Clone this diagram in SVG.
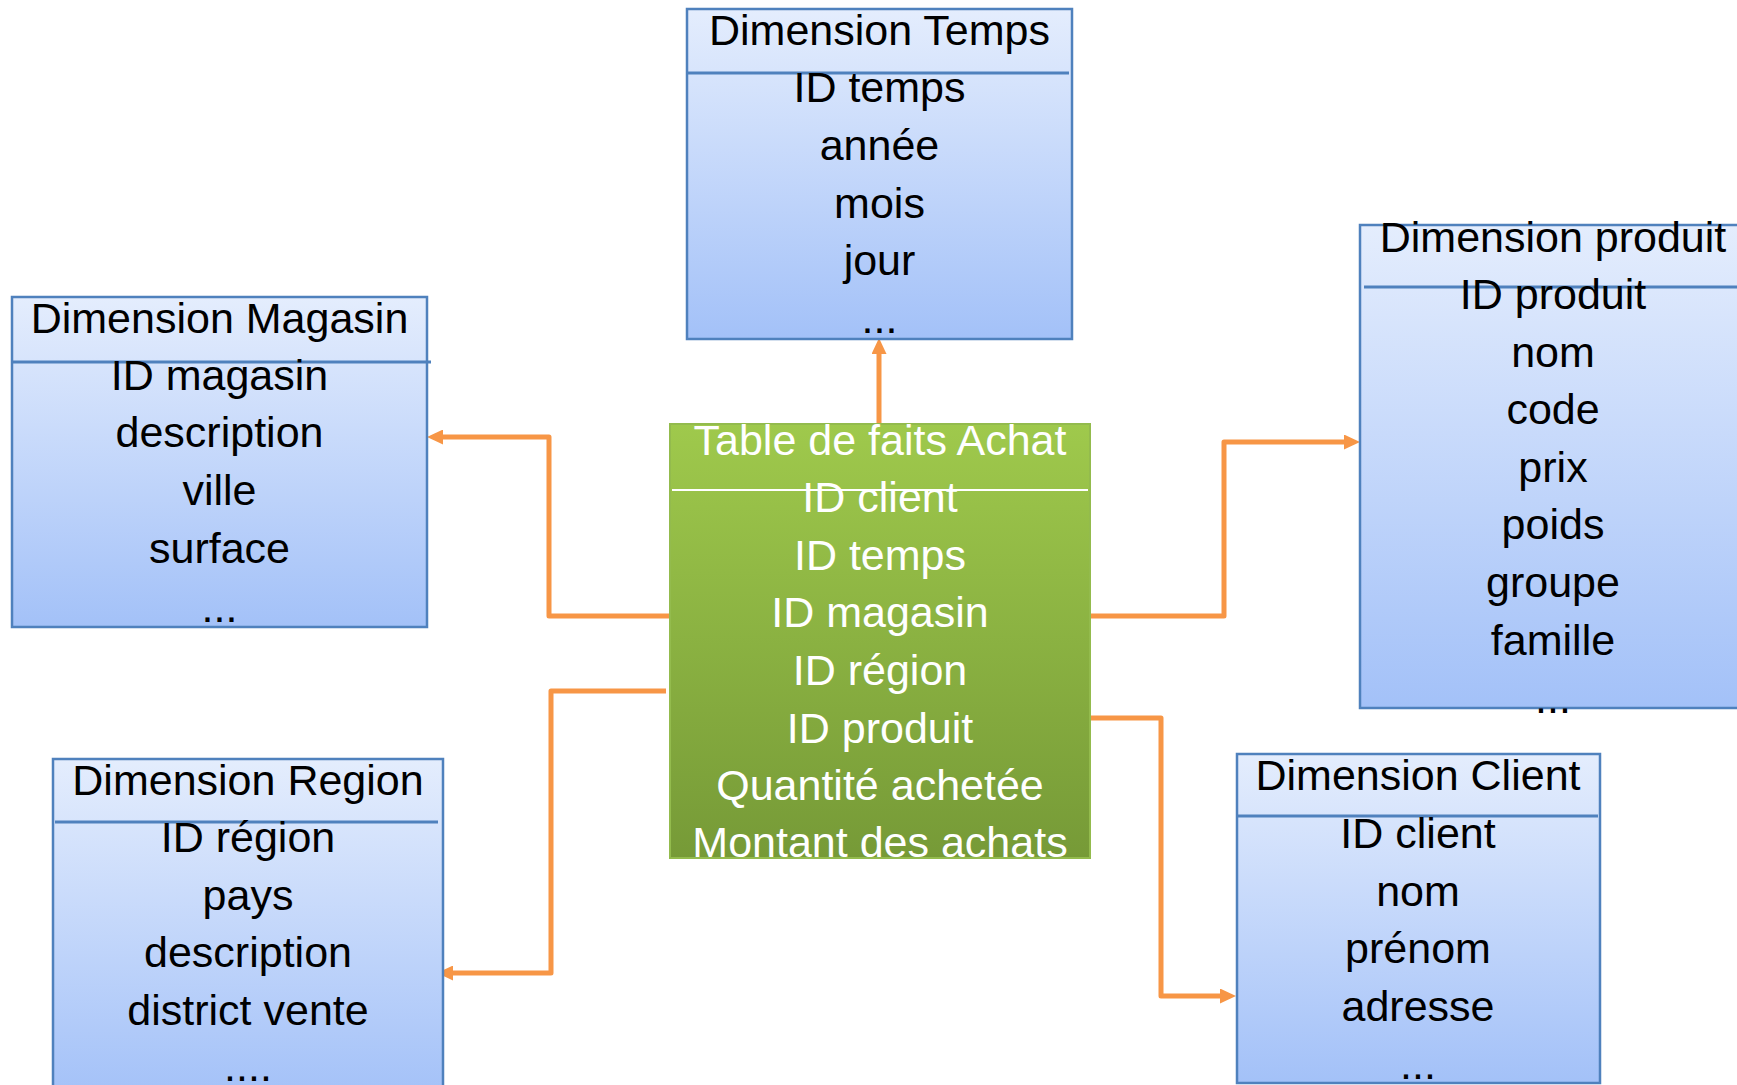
<svg xmlns="http://www.w3.org/2000/svg" width="1737" height="1085" viewBox="0 0 1737 1085">
<style>
  .dim { stroke: #4f81bd; stroke-width: 2.5; fill: url(#blueGrad); }
  .div { stroke: #4f81bd; stroke-width: 3; }
  .fact { stroke: #93bb4d; stroke-width: 2; fill: url(#greenGrad); }
  .fdiv { stroke: #ffffff; stroke-width: 2; }
  text { font-family: "Liberation Sans", Arial, sans-serif; font-size: 43px; text-anchor: middle; }
  .dark { fill: #000000; }
  .light { fill: #ffffff; }
  .conn { fill: none; stroke: #f79646; stroke-width: 5; stroke-linejoin: round; }
</style>
<defs>
  <linearGradient id="blueGrad" x1="0" y1="0" x2="0" y2="1">
    <stop offset="0" stop-color="#e4edfd"/>
    <stop offset="1" stop-color="#a3c1f8"/>
  </linearGradient>
  <linearGradient id="greenGrad" x1="0" y1="0" x2="0" y2="1">
    <stop offset="0" stop-color="#9fc94c"/>
    <stop offset="1" stop-color="#769a37"/>
  </linearGradient>
  <marker id="arrow" markerUnits="userSpaceOnUse" markerWidth="17" markerHeight="15" refX="3" refY="7.5" orient="auto">
    <path d="M0,0 L16,7.5 L0,15 z" fill="#f79646"/>
  </marker>
</defs>
<rect width="1737" height="1085" fill="#ffffff"/>

<g id="connectors">
  <path class="conn" d="M879,424 V351" marker-end="url(#arrow)"/>
  <path class="conn" d="M670,616 H549 V437 H440" marker-end="url(#arrow)"/>
  <path class="conn" d="M666,691 H551 V973 H450" marker-end="url(#arrow)"/>
  <path class="conn" d="M1090,616 H1224 V442 H1347" marker-end="url(#arrow)"/>
  <path class="conn" d="M1090,718 H1161 V996 H1223" marker-end="url(#arrow)"/>
</g>

<g id="dim-temps">
  <rect class="dim" x="687" y="9" width="385" height="330"/>
  <line class="div" x1="688" y1="73" x2="1069" y2="73"/>
  <text class="dark" x="879.5" y="45">Dimension Temps</text>
  <text class="dark" x="879.5" y="102">ID temps</text>
  <text class="dark" x="879.5" y="160">année</text>
  <text class="dark" x="879.5" y="218">mois</text>
  <text class="dark" x="879.5" y="275">jour</text>
  <text class="dark" x="879.5" y="333">...</text>
</g>

<g id="dim-magasin">
  <rect class="dim" x="12" y="297" width="415" height="330"/>
  <line class="div" x1="13" y1="362" x2="431" y2="362"/>
  <text class="dark" x="219.5" y="333">Dimension Magasin</text>
  <text class="dark" x="219.5" y="390">ID magasin</text>
  <text class="dark" x="219.5" y="447">description</text>
  <text class="dark" x="219.5" y="505">ville</text>
  <text class="dark" x="219.5" y="563">surface</text>
  <text class="dark" x="219.5" y="622">...</text>
</g>

<g id="fact-achat">
  <rect class="fact" x="670" y="424" width="420" height="434"/>
  <line class="fdiv" x1="672" y1="490" x2="1088" y2="490"/>
  <text class="light" x="880" y="455">Table de faits Achat</text>
  <text class="light" x="880" y="512">ID client</text>
  <text class="light" x="880" y="570">ID temps</text>
  <text class="light" x="880" y="627">ID magasin</text>
  <text class="light" x="880" y="685">ID région</text>
  <text class="light" x="880" y="743">ID produit</text>
  <text class="light" x="880" y="800">Quantité achetée</text>
  <text class="light" x="880" y="857">Montant des achats</text>
</g>

<g id="dim-produit">
  <rect class="dim" x="1360" y="225" width="390" height="483"/>
  <line class="div" x1="1364" y1="287" x2="1737" y2="287"/>
  <text class="dark" x="1553" y="252">Dimension produit</text>
  <text class="dark" x="1553" y="309">ID produit</text>
  <text class="dark" x="1553" y="367">nom</text>
  <text class="dark" x="1553" y="424">code</text>
  <text class="dark" x="1553" y="482">prix</text>
  <text class="dark" x="1553" y="539">poids</text>
  <text class="dark" x="1553" y="597">groupe</text>
  <text class="dark" x="1553" y="655">famille</text>
  <text class="dark" x="1553" y="713">...</text>
</g>

<g id="dim-region">
  <rect class="dim" x="53" y="759" width="390" height="340"/>
  <line class="div" x1="55" y1="822" x2="438" y2="822"/>
  <text class="dark" x="248" y="795">Dimension Region</text>
  <text class="dark" x="248" y="852">ID région</text>
  <text class="dark" x="248" y="910">pays</text>
  <text class="dark" x="248" y="967">description</text>
  <text class="dark" x="248" y="1025">district vente</text>
  <text class="dark" x="248" y="1081">....</text>
</g>

<g id="dim-client">
  <rect class="dim" x="1237" y="754" width="363" height="329"/>
  <line class="div" x1="1238" y1="816" x2="1598" y2="816"/>
  <text class="dark" x="1418" y="790">Dimension Client</text>
  <text class="dark" x="1418" y="848">ID client</text>
  <text class="dark" x="1418" y="906">nom</text>
  <text class="dark" x="1418" y="963">prénom</text>
  <text class="dark" x="1418" y="1021">adresse</text>
  <text class="dark" x="1418" y="1079">...</text>
</g>
</svg>
